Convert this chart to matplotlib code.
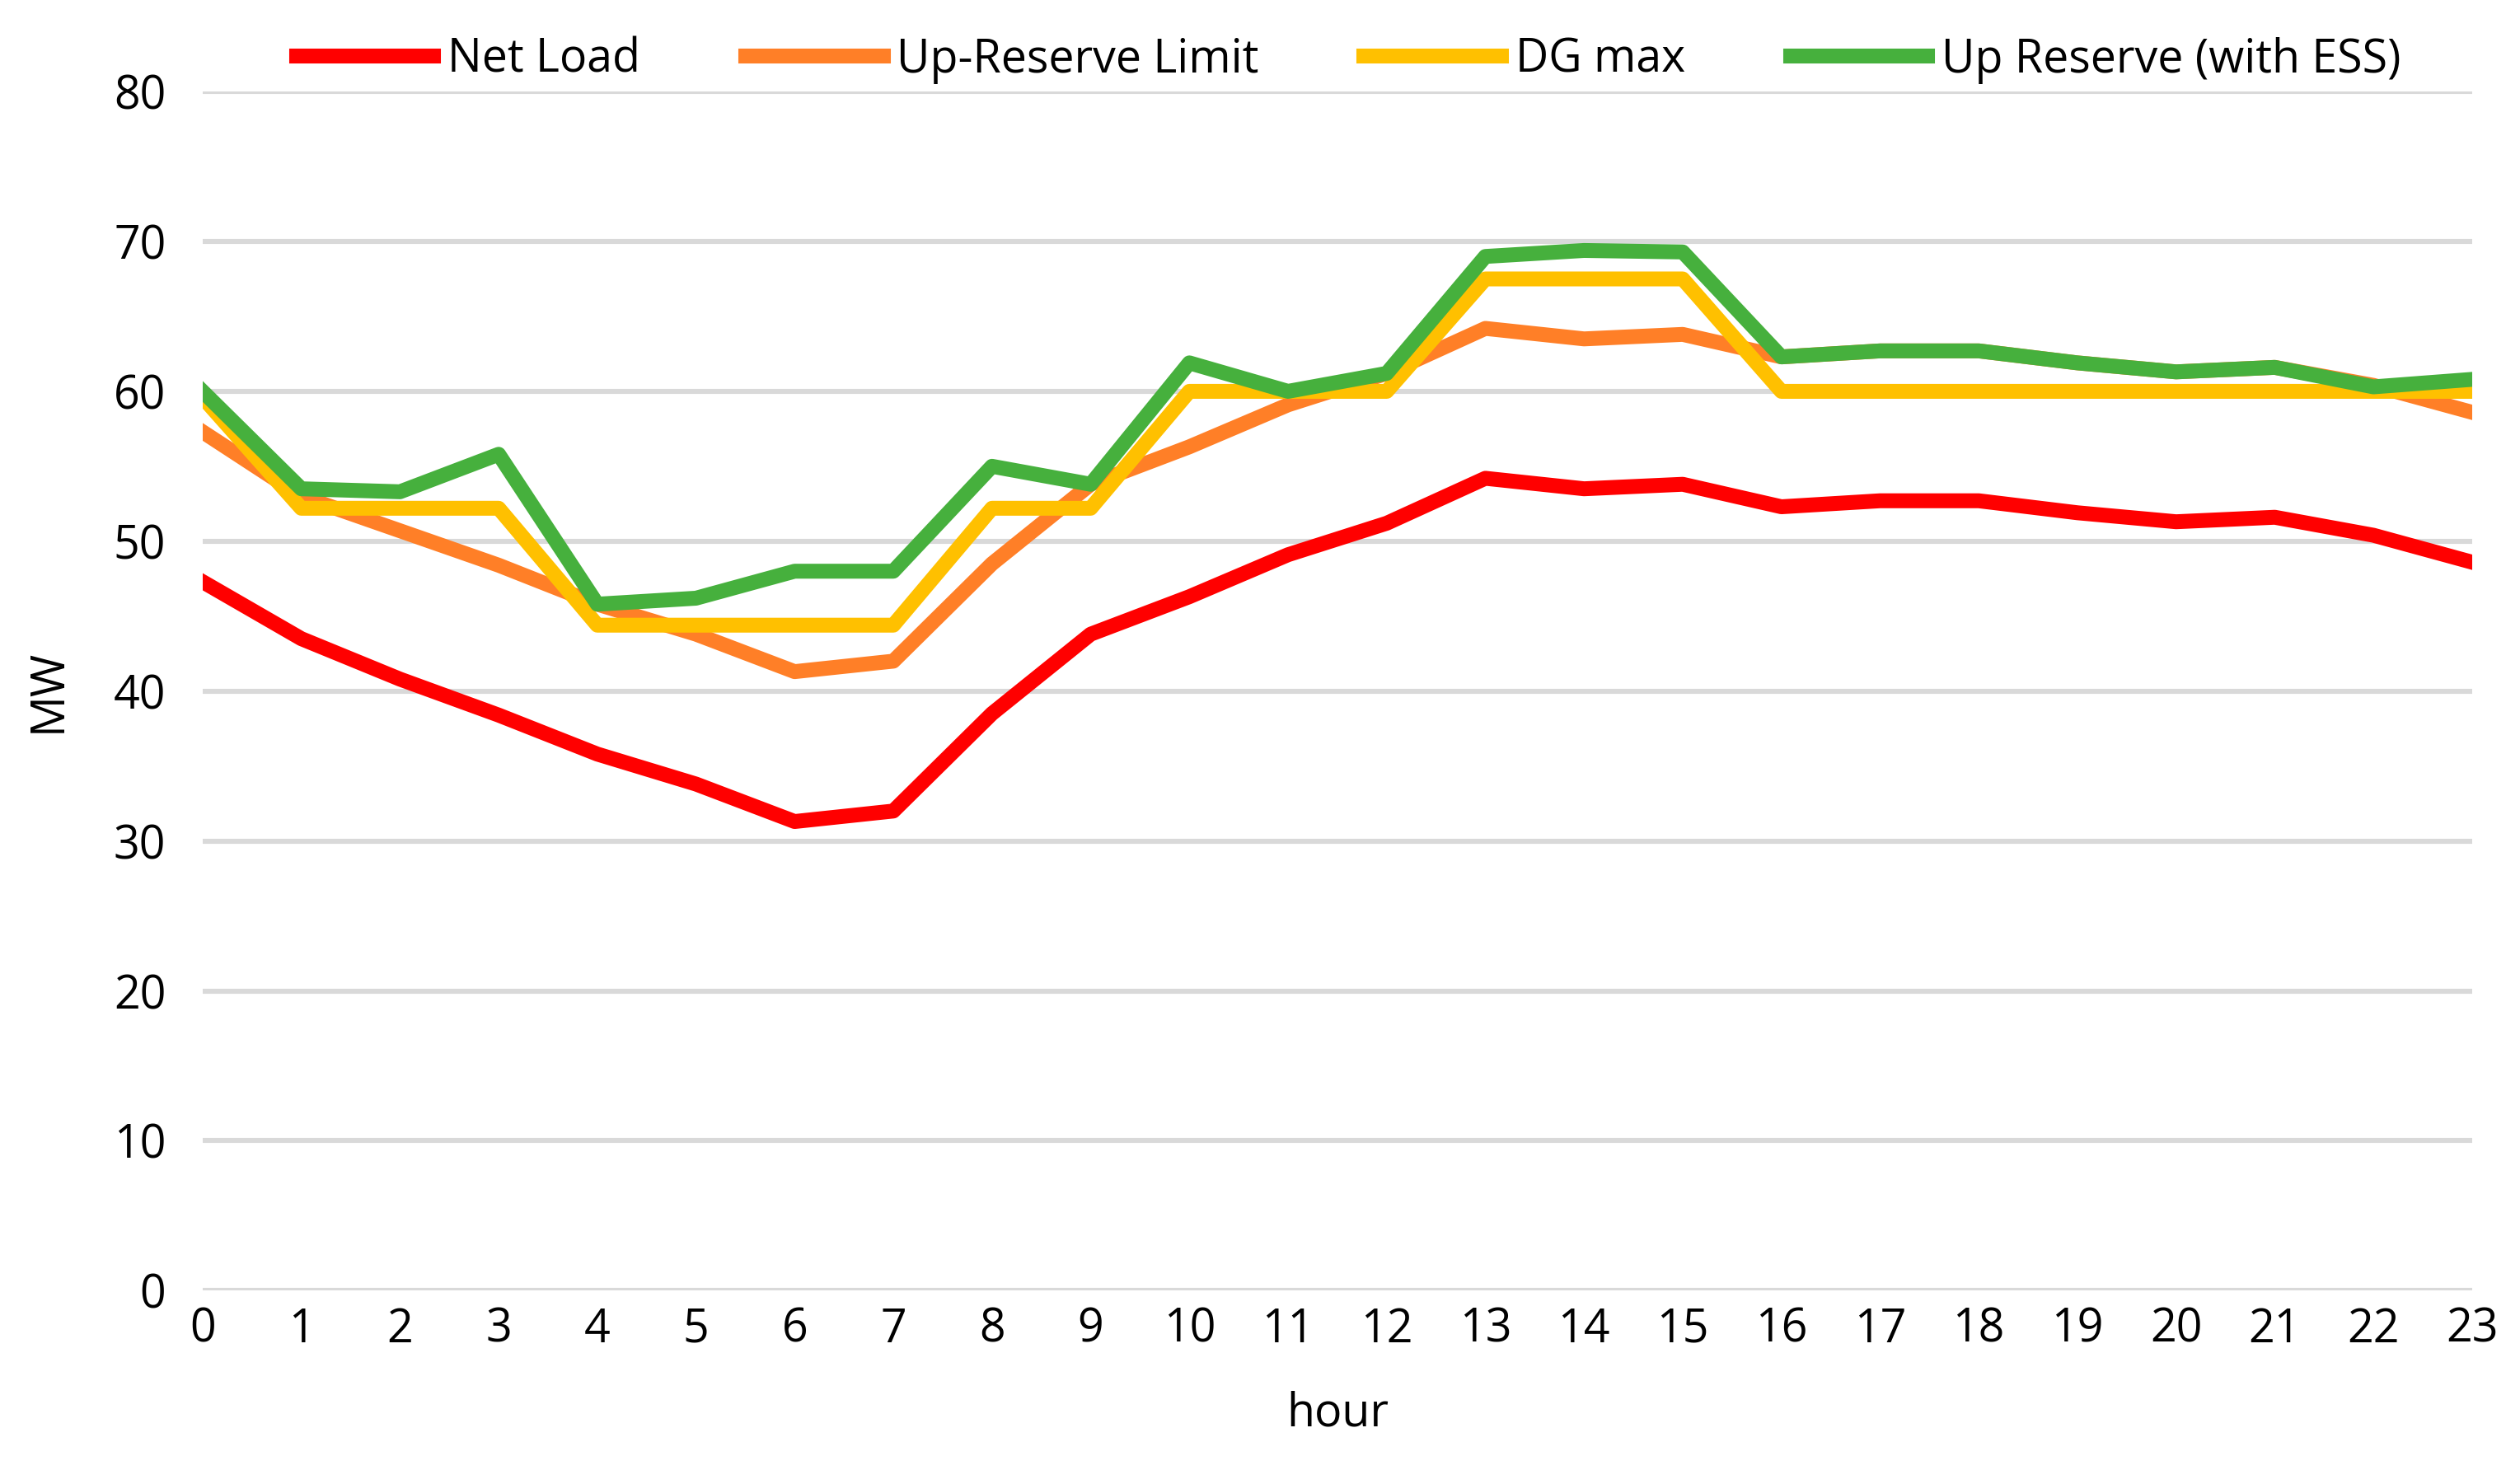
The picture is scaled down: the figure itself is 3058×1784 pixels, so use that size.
import matplotlib.pyplot as plt

hours = list(range(24))

net_load = [47.3, 43.5, 40.8, 38.4, 35.8, 33.8, 31.3, 32.0, 38.5, 43.8, 46.3, 49.1,
            51.2, 54.2, 53.5, 53.8, 52.3, 52.7, 52.7, 51.9, 51.3, 51.6, 50.4, 48.6]
up_limit = [57.3, 53.0, 50.7, 48.4, 45.8, 43.8, 41.3, 42.0, 48.5, 53.8, 56.3, 59.1,
            61.2, 64.2, 63.5, 63.8, 62.3, 62.7, 62.7, 61.9, 61.3, 61.6, 60.4, 58.6]
dg_max = [59.6, 52.2, 52.2, 52.2, 44.4, 44.4, 44.4, 44.4, 52.2, 52.2, 60.0, 60.0,
          60.0, 67.5, 67.5, 67.5, 60.0, 60.0, 60.0, 60.0, 60.0, 60.0, 60.0, 60.0]
up_reserve = [60.0, 53.5, 53.3, 55.8, 45.8, 46.2, 48.0, 48.0, 55.0, 53.8, 61.9, 60.0,
              61.2, 69.0, 69.4, 69.3, 62.3, 62.7, 62.7, 61.9, 61.3, 61.6, 60.3, 60.8]

plt.rcParams['font.family'] = ['Open Sans', 'DejaVu Sans']

fig = plt.figure(figsize=(15.29, 8.92), dpi=200)
ax = fig.add_axes([0.0804, 0.122, 0.9006, 0.8157])

lw = 6.5
ax.plot(hours, net_load, color='#FF0000', lw=lw, label='Net Load', solid_joinstyle='round')
ax.plot(hours, up_limit, color='#FF7F27', lw=lw, label='Up-Reserve Limit', solid_joinstyle='round')
ax.plot(hours, dg_max, color='#FFC000', lw=lw, label='DG max', solid_joinstyle='round')
ax.plot(hours, up_reserve, color='#46B03D', lw=lw, label='Up Reserve (with ESS)', solid_joinstyle='round')

ax.set_xlim(0, 23)
ax.set_ylim(0, 80)
ax.set_xticks(hours)
ax.set_yticks(range(0, 81, 10))
ax.tick_params(length=0, labelsize=20, pad=7)
ax.tick_params(axis='y', pad=16)
ax.grid(axis='y', color='#D9D9D9', lw=2.2)
ax.set_axisbelow(True)
for s in ax.spines.values():
    s.set_visible(False)

ax.set_xlabel('hour', fontsize=20, labelpad=16)
ax.set_ylabel('MW', fontsize=20, labelpad=18)

ax.legend(loc='lower center', bbox_to_anchor=(0.505, 0.972), ncol=4, frameon=False,
          fontsize=20, handlelength=3.0, columnspacing=2.3, handletextpad=0.3)

fig.savefig('out.png')
